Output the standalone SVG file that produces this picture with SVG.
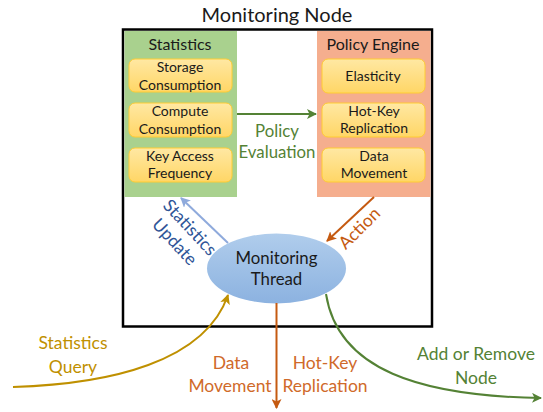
<svg xmlns="http://www.w3.org/2000/svg" width="543" height="412" viewBox="0 0 543 412">
<defs>
<linearGradient id="gy" x1="0" y1="0" x2="0" y2="1"><stop offset="0" stop-color="#ffe8a3"/><stop offset="1" stop-color="#ffd666"/></linearGradient>
<linearGradient id="gb" x1="0" y1="0" x2="0" y2="1"><stop offset="0" stop-color="#b0cdec"/><stop offset="1" stop-color="#8cb2e0"/></linearGradient>
<marker id="mGreen" markerWidth="10" markerHeight="10" refX="9" refY="5" orient="auto" markerUnits="userSpaceOnUse"><path d="M0,0 L10,5 L0,10 L2.5,5 z" fill="#548235"/></marker>
<marker id="mBlue" markerWidth="10" markerHeight="10" refX="9" refY="5" orient="auto" markerUnits="userSpaceOnUse"><path d="M0,0 L10,5 L0,10 L2.5,5 z" fill="#8faadc"/></marker>
<marker id="mOrange" markerWidth="10" markerHeight="10" refX="9" refY="5" orient="auto" markerUnits="userSpaceOnUse"><path d="M0,0 L10,5 L0,10 L2.5,5 z" fill="#c55a11"/></marker>
<marker id="mGold" markerWidth="10" markerHeight="10" refX="9" refY="5" orient="auto" markerUnits="userSpaceOnUse"><path d="M0,0 L10,5 L0,10 L2.5,5 z" fill="#bf9000"/></marker>
</defs>
<style>
text{font-family:Lato,"Open Sans","Liberation Sans",sans-serif;text-anchor:middle;fill:#1a1a1a}
.t{font-size:14px}
.h{font-size:16px}
.m{font-size:16.8px}
.l{font-size:17.5px}
.inner{fill:url(#gy);stroke:#ffcc33;stroke-width:1}
.ln{fill:none;stroke-width:2}
</style>
<text x="277" y="22" style="font-size:20px">Monitoring Node</text>
<g id="monitoring-node"><rect x="123" y="29.5" width="309" height="297" fill="#fff" stroke="#000" stroke-width="2.5"/></g>
<g id="statistics">
<rect x="124.5" y="31" width="112.5" height="166" fill="#a9d18e"/>
<text class="h" x="180" y="50">Statistics</text>
</g>
<g id="policy-engine">
<rect x="317" y="31" width="113.5" height="166" fill="#f5ae8e"/>
<text class="h" x="373" y="50">Policy Engine</text>
</g>
<g id="storage-consumption"><rect class="inner" x="129" y="59" width="103" height="33" rx="6"/><text class="t" x="180" y="72">Storage</text><text class="t" x="180" y="89.5">Consumption</text></g>
<g id="compute-consumption"><rect class="inner" x="129" y="103" width="103" height="34" rx="6"/><text class="t" x="180" y="116">Compute</text><text class="t" x="180" y="133.5">Consumption</text></g>
<g id="key-access-frequency"><rect class="inner" x="129" y="148" width="103" height="34" rx="6"/><text class="t" x="180" y="160.5">Key Access</text><text class="t" x="180" y="178">Frequency</text></g>
<g id="elasticity"><rect class="inner" x="322" y="59" width="103" height="34" rx="6"/><text class="t" x="373" y="81">Elasticity</text></g>
<g id="hot-key-replication"><rect class="inner" x="322" y="103" width="103" height="34" rx="6"/><text class="t" x="374" y="116">Hot-Key</text><text class="t" x="374" y="133">Replication</text></g>
<g id="data-movement"><rect class="inner" x="322" y="148" width="103" height="34" rx="6"/><text class="t" x="374" y="160.5">Data</text><text class="t" x="374" y="178">Movement</text></g>
<g id="monitoring-thread">
<ellipse cx="276.5" cy="268.5" rx="69.5" ry="35" fill="url(#gb)"/>
<text class="m" x="276.5" y="264">Monitoring</text>
<text class="m" x="276.5" y="285">Thread</text>
</g>
<g id="connectors">
<line class="ln" x1="237" y1="114" x2="316" y2="114" stroke="#548235" marker-end="url(#mGreen)"/>
<line class="ln" x1="228" y1="243" x2="181" y2="198" stroke="#8faadc" marker-end="url(#mBlue)"/>
<line class="ln" x1="374" y1="197" x2="327" y2="241" stroke="#c55a11" marker-end="url(#mOrange)"/>
<path class="ln" d="M13 387 C110 384 205 362 228 295" stroke="#bf9000" marker-end="url(#mGold)"/>
<line class="ln" x1="276.5" y1="303" x2="276.5" y2="408" stroke="#c55a11" marker-end="url(#mOrange)"/>
<path class="ln" d="M326 294 C338 370 420 396 541 398" stroke="#548235" marker-end="url(#mGreen)"/>
</g>
<g id="labels">
<text class="m" x="277" y="137" style="fill:#548235">Policy</text>
<text class="m" x="277" y="158" style="fill:#548235">Evaluation</text>
<g transform="translate(182,235) rotate(47)"><text class="l" x="0" y="-5" style="fill:#2f5597">Statistics</text><text class="l" x="0" y="16" style="fill:#2f5597">Update</text></g>
<g transform="translate(360,229) rotate(-45)"><text class="l" x="0" y="5" style="fill:#c55a11">Action</text></g>
<text class="l" x="73" y="349" style="fill:#bf9000">Statistics</text>
<text class="l" x="73" y="373" style="fill:#bf9000">Query</text>
<text class="l" x="231" y="369" style="fill:#d06a2a">Data</text>
<text class="l" x="230" y="392" style="fill:#d06a2a">Movement</text>
<text class="l" x="325" y="369" style="fill:#d06a2a">Hot-Key</text>
<text class="l" x="325" y="392" style="fill:#d06a2a">Replication</text>
<text class="l" x="476" y="360" style="fill:#548235">Add or Remove</text>
<text class="l" x="476" y="384" style="fill:#548235">Node</text>
</g>
</svg>
